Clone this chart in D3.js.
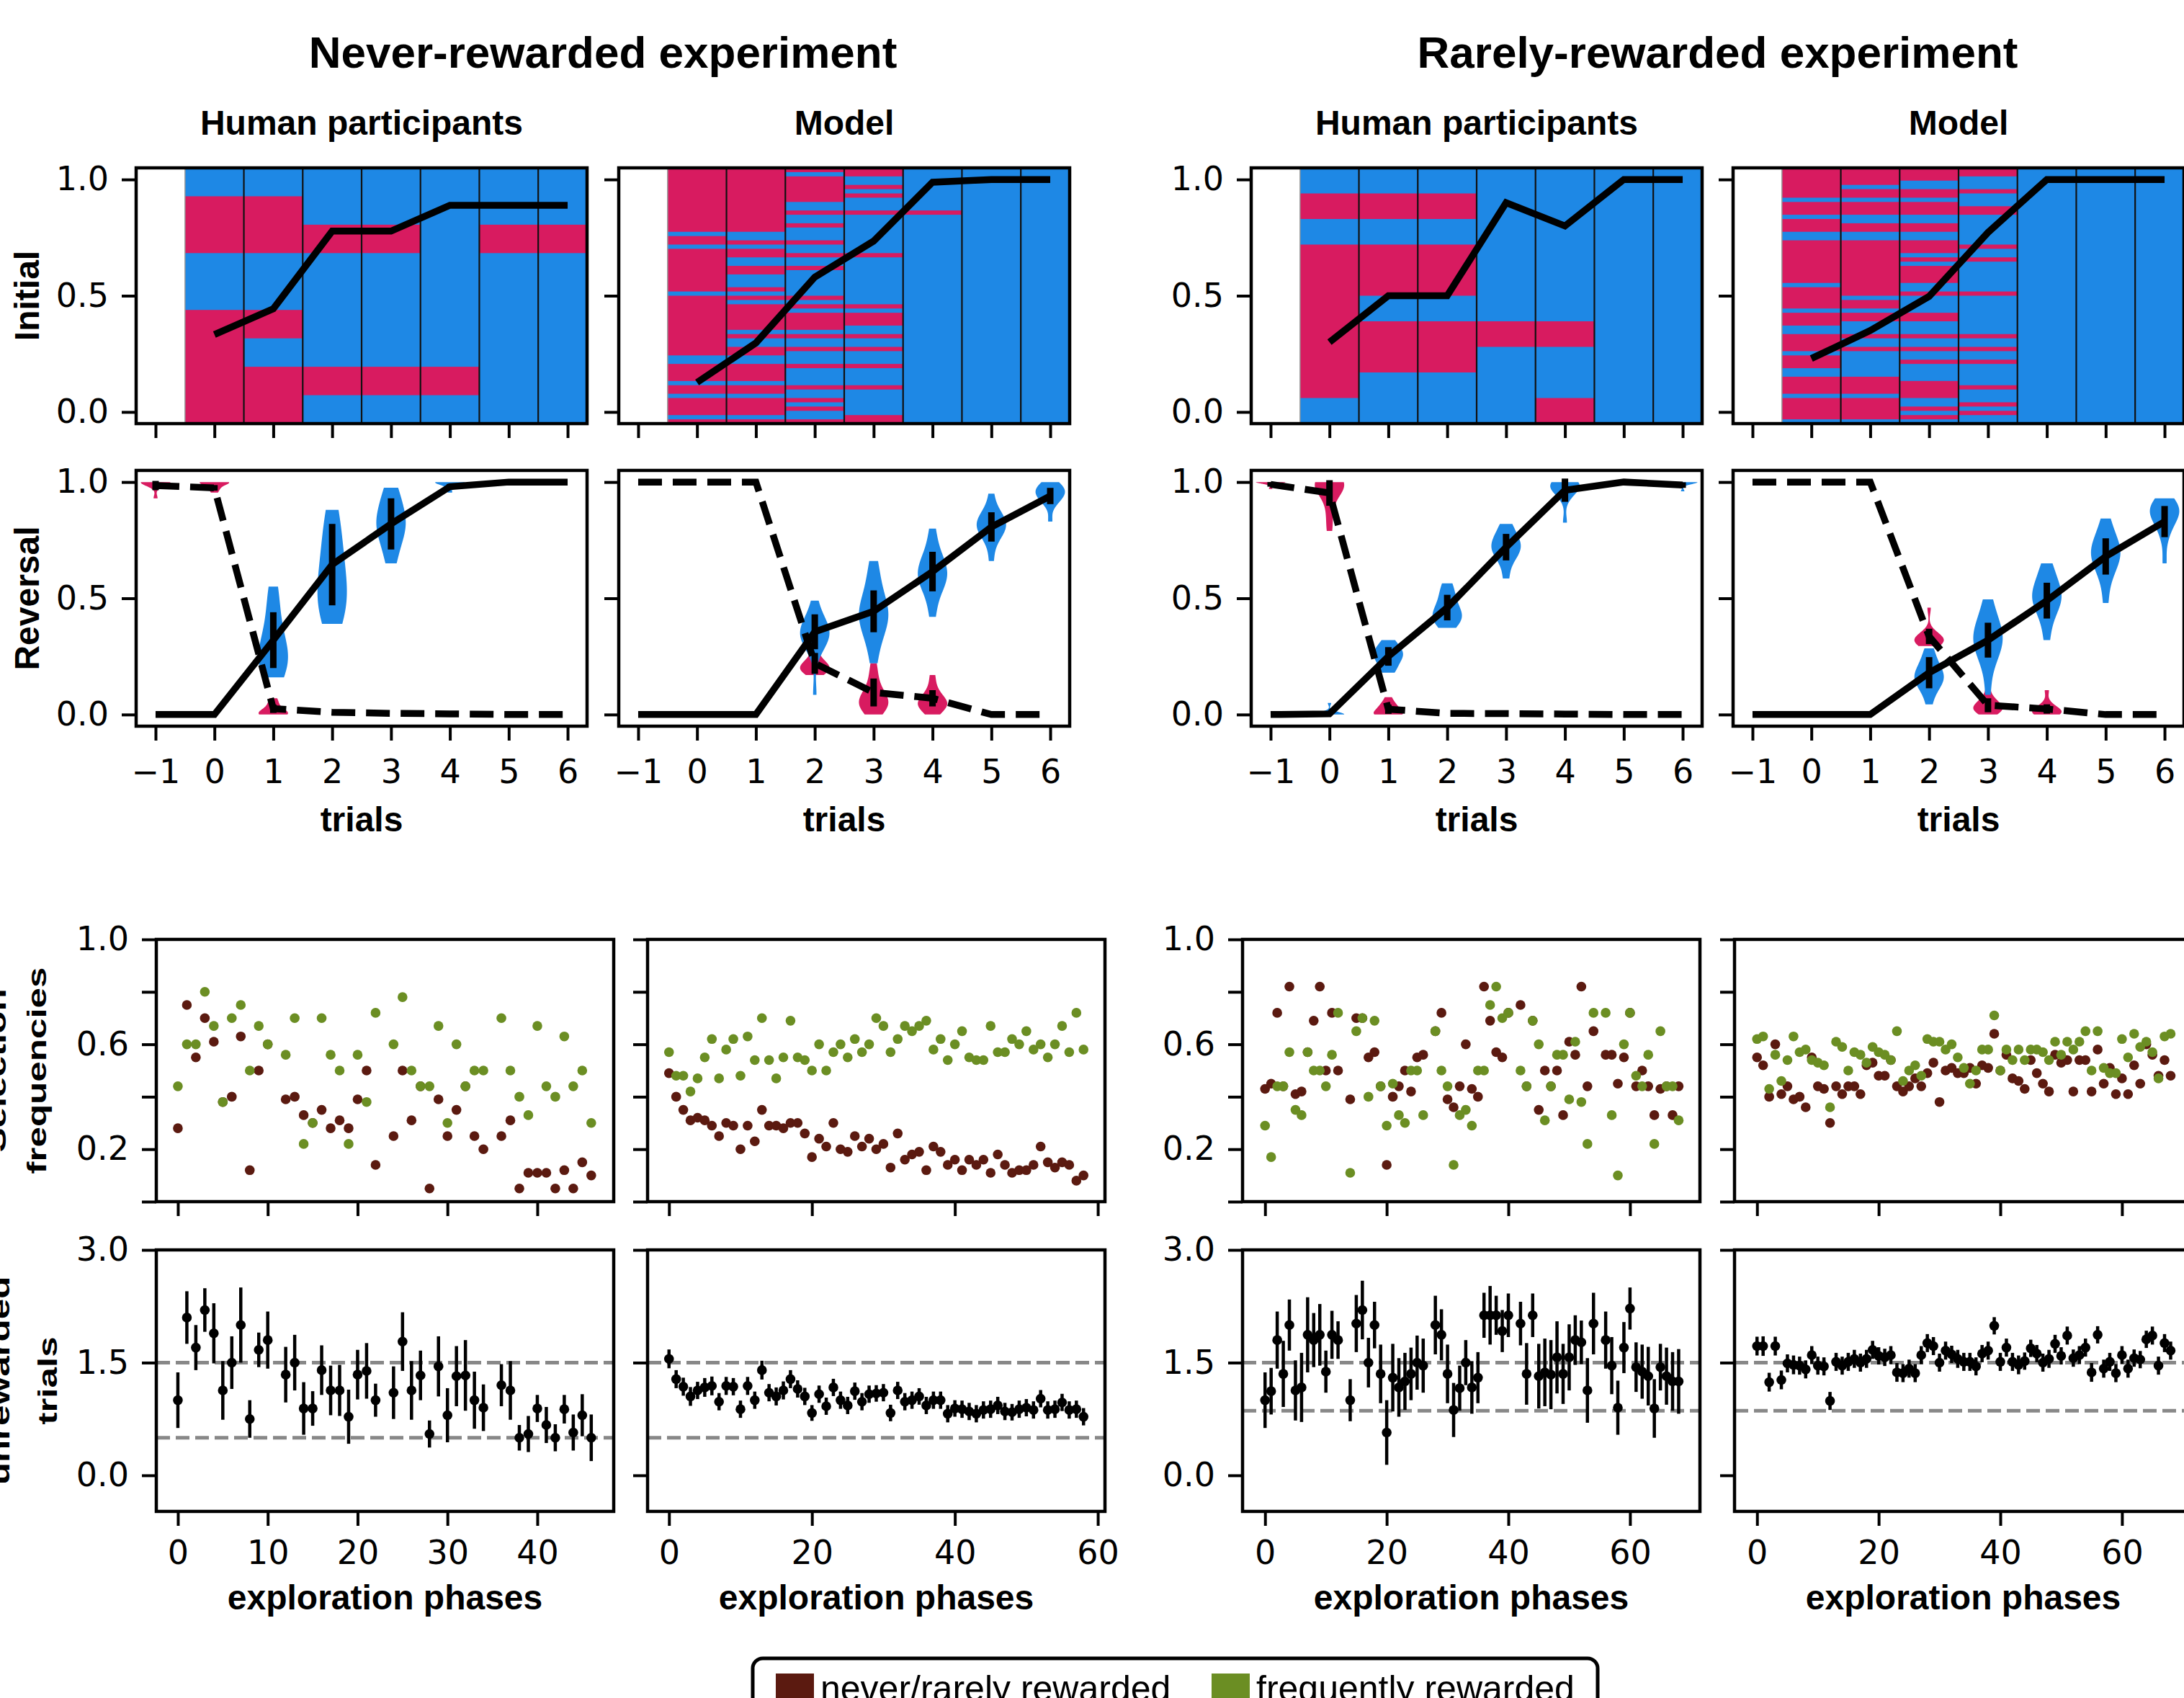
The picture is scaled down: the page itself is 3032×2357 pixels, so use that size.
<!DOCTYPE html>
<html><head><meta charset="utf-8">
<script src="https://cdn.jsdelivr.net/npm/d3@7"></script>
<style>body{margin:0;background:#fff}svg{display:block}</style>
</head><body>
<svg id="c" width="3032" height="2357"></svg>
<script>
// ---------------- DATA ----------------
const trials = [-1,0,1,2,3,4,5,6];
const initTrials = [0,1,2,3,4,5,6];

// Initial phase: per trial column, runs [start,end) of rows (from top) choosing the red option
const initNeverHumanN = 9;
const initNeverHumanRedRuns = [[[1,3],[5,9]],[[1,3],[5,6],[7,9]],[[2,3],[7,8]],[[2,3],[7,8]],[[7,8]],[[2,3]],[[2,3]]];
const initNeverHumanLine = [0.333,0.444,0.778,0.778,0.889,0.889,0.889];

const initNeverModelN = 60;
const initNeverModelRedRuns = [
  [[0,15],[16,18],[19,29],[30,44],[46,50],[51,53],[54,58],[59,60]],
  [[0,15],[17,18],[19,21],[23,25],[28,29],[30,31],[32,38],[39,40],[42,44],[46,50],[51,53],[54,58],[59,60]],
  [[0,1],[2,8],[10,11],[13,14],[17,18],[20,21],[23,24],[30,31],[32,33],[34,38],[39,40],[42,43],[46,47],[51,52],[54,55],[56,57],[59,60]],
  [[0,2],[4,5],[6,7],[10,11],[20,21],[32,33],[34,37],[39,40],[42,43],[46,47],[51,52],[58,60]],
  [[10,11]],[],[]];
const initNeverModelLine = [0.127,0.297,0.58,0.735,0.988,1.0,1.0];

const initRareHumanN = 10;
const initRareHumanRedRuns = [[[1,2],[3,9]],[[1,2],[3,5],[6,8]],[[1,2],[3,5],[6,8]],[[6,7]],[[6,7],[9,10]],[],[]];
const initRareHumanLine = [0.3,0.5,0.5,0.9,0.8,1.0,1.0];

const initRareModelN = 60;
const initRareModelRedRuns = [
  [[0,7],[8,11],[12,15],[17,27],[28,33],[34,37],[39,43],[44,47],[49,53],[54,59]],
  [[0,4],[5,7],[8,11],[13,15],[17,30],[31,33],[34,36],[39,40],[42,43],[49,53],[54,59]],
  [[0,3],[5,7],[8,11],[13,15],[17,20],[21,22],[23,27],[29,30],[34,36],[39,40],[42,43],[45,46],[50,54],[56,57],[58,59]],
  [[0,2],[5,6],[9,11],[18,19],[21,22],[29,30],[39,40],[42,43],[45,46],[51,52],[55,56],[57,58]],
  [],[],[]];
const initRareModelLine = [0.23,0.35,0.497,0.772,1.0,1.0,1.0];

// Reversal phase (x = trials)
const revNeverHumanNew = [0,0,0.32,0.645,0.82,0.98,1.0,1.0];
const revNeverHumanOld = [0.985,0.975,0.025,0.01,0.005,0.003,0,0];
const revNeverHumanNewErr = [0,0,0.12,0.175,0.11,0.012,0,0];
const revNeverHumanOldErr = [0.02,0.012,0.018,0,0,0,0,0];
const revNeverHumanNewViolin = [null,null,
  [0.16,0.19,0.22,0.25,0.28,0.31,0.38,0.46,0.55],
  [0.39,0.44,0.48,0.53,0.58,0.64,0.71,0.79,0.88],
  [0.65,0.72,0.77,0.8,0.82,0.85,0.88,0.93,0.976],
  [0.955,0.98,0.99,1,1,1,1,1,1],null,null];
const revNeverHumanOldViolin = [
  [0.93,0.98,1,1,1,1,1,1,1],
  [0.955,0.97,0.98,0.99,1,1,1,1,1],
  [0,0,0,0,0.01,0.02,0.03,0.05,0.07],null,null,null,null,null];

const revNeverModelNew = [0,0,0,0.356,0.444,0.615,0.807,0.94];
const revNeverModelOld = [1,1,1,0.22,0.095,0.07,0,0];
const revNeverModelNewErr = [0,0,0,0.075,0.09,0.085,0.063,0.035];
const revNeverModelOldErr = [0,0,0,0.045,0.06,0.035,0,0];
const revNeverModelNewViolin = [null,null,null,
  [0.085,0.27,0.3,0.32,0.33,0.34,0.35,0.36,0.37,0.38,0.4,0.43,0.49],
  [0.22,0.3,0.35,0.38,0.4,0.42,0.44,0.45,0.47,0.5,0.55,0.6,0.66],
  [0.42,0.5,0.55,0.57,0.59,0.6,0.61,0.63,0.65,0.68,0.72,0.8],
  [0.66,0.74,0.77,0.79,0.8,0.81,0.82,0.83,0.84,0.86,0.88,0.95],
  [0.83,0.9,0.92,0.93,0.94,0.95,0.96,0.96,0.97,0.98,0.99,1.0]];
const revNeverModelOldViolin = [null,null,null,
  [0.17,0.18,0.19,0.2,0.2,0.21,0.22,0.23,0.25,0.285],
  [0,0.02,0.03,0.04,0.05,0.06,0.07,0.08,0.1,0.13,0.17,0.22],
  [0,0.02,0.03,0.04,0.05,0.05,0.06,0.07,0.09,0.12,0.17],null,null];

const revRareHumanNew = [0,0.003,0.25,0.46,0.72,0.965,1.0,0.987];
const revRareHumanOld = [0.99,0.953,0.023,0.005,0.004,0.002,0,0];
const revRareHumanNewErr = [0,0,0.04,0.055,0.057,0.05,0,0.012];
const revRareHumanOldErr = [0.01,0.055,0.02,0,0,0,0,0];
const revRareHumanNewViolin = [null,
  [0,0,0,0,0,0,0,0,0.01,0.05],
  [0.18,0.2,0.22,0.24,0.25,0.26,0.27,0.28,0.3,0.32],
  [0.373,0.4,0.41,0.42,0.43,0.45,0.47,0.5,0.53,0.564],
  [0.585,0.66,0.69,0.7,0.72,0.73,0.74,0.76,0.79,0.82],
  [0.825,0.93,0.96,0.97,0.98,0.98,0.99,1,1,1],null,
  [0.96,0.99,1,1,1,1,1,1,1,1]];
const revRareHumanOldViolin = [
  [0.97,0.99,1,1,1,1,1,1,1,1],
  [0.79,0.86,0.93,0.96,0.98,1,1,1,1,1],
  [0,0,0,0,0.01,0.02,0.03,0.04,0.05,0.075],null,null,null,null,null];

const revRareModelNew = [0,0,0,0.18,0.32,0.49,0.68,0.83];
const revRareModelOld = [1,1,1,0.336,0.04,0.024,0,0];
const revRareModelNewErr = [0,0,0,0.067,0.075,0.077,0.078,0.067];
const revRareModelOldErr = [0,0,0,0.033,0.03,0.02,0,0];
const revRareModelNewViolin = [null,null,null,
  [0.044,0.1,0.12,0.14,0.15,0.16,0.17,0.18,0.2,0.22,0.25,0.285],
  [0.085,0.2,0.25,0.28,0.3,0.32,0.33,0.35,0.37,0.4,0.44,0.495],
  [0.32,0.4,0.44,0.47,0.49,0.5,0.51,0.53,0.55,0.58,0.61,0.65],
  [0.48,0.58,0.62,0.65,0.67,0.69,0.7,0.71,0.73,0.76,0.79,0.843],
  [0.65,0.76,0.8,0.83,0.85,0.86,0.87,0.88,0.89,0.9,0.91,0.93]];
const revRareModelOldViolin = [null,null,null,
  [0.295,0.305,0.31,0.315,0.32,0.32,0.325,0.33,0.34,0.35,0.46],
  [0,0.01,0.02,0.02,0.03,0.03,0.04,0.05,0.06,0.08,0.126],
  [0,0,0.005,0.01,0.01,0.02,0.02,0.03,0.05,0.105],null,null];

// Exploration phases: selection frequencies
const selNeverHumanRare = [0.28,0.75,0.55,0.70,0.61,0.38,0.40,0.63,0.12,0.50,0.60,null,0.39,0.40,0.33,0.30,0.35,0.28,0.31,0.28,0.39,0.50,0.14,null,0.25,0.50,0.31,0.44,0.05,0.39,0.25,0.35,0.44,0.25,0.20,null,0.25,0.31,0.05,0.11,0.11,0.11,0.05,0.12,0.05,0.15,0.10];
const selNeverHumanFreq = [0.44,0.60,0.60,0.80,0.67,0.38,0.70,0.75,0.50,0.67,0.60,null,0.56,0.70,0.22,0.30,0.70,0.56,0.50,0.22,0.56,0.38,0.72,null,0.60,0.78,0.50,0.44,0.44,0.67,0.30,0.60,0.44,0.50,0.50,null,0.70,0.50,0.40,0.33,0.67,0.44,0.40,0.63,0.44,0.50,0.30];
const selNeverModelRare = [0.49,0.40,0.35,0.31,0.32,0.31,0.29,0.25,0.30,0.29,0.20,0.29,0.23,0.35,0.29,0.29,0.28,0.30,0.30,0.26,0.17,0.24,0.21,0.30,0.20,0.19,0.25,0.21,0.24,0.20,0.22,0.13,0.26,0.16,0.18,0.19,0.12,0.21,0.19,0.14,0.16,0.12,0.16,0.14,0.16,0.11,0.18,0.14,0.11,0.12,0.12,0.14,0.21,0.15,0.13,0.15,0.14,0.08,0.10];
const selNeverModelFreq = [0.57,0.48,0.48,0.42,0.47,0.55,0.62,0.47,0.58,0.62,0.48,0.63,0.54,0.70,0.54,0.47,0.55,0.69,0.55,0.54,0.50,0.60,0.50,0.57,0.60,0.55,0.62,0.57,0.60,0.70,0.67,0.57,0.62,0.67,0.65,0.67,0.69,0.58,0.62,0.54,0.60,0.65,0.55,0.54,0.54,0.67,0.57,0.57,0.62,0.60,0.65,0.58,0.60,0.55,0.60,0.67,0.57,0.72,0.58];
const selRareHumanRare = [0.43,0.45,0.72,0.44,0.82,0.41,0.42,0.57,0.69,0.82,0.50,0.72,0.50,null,0.39,0.70,0.70,0.55,0.57,0.44,0.14,0.40,0.44,0.50,0.42,0.55,0.56,null,0.65,0.72,0.39,0.36,0.44,0.60,0.43,0.40,0.82,0.69,0.57,0.55,0.72,null,0.75,0.44,0.69,0.35,0.50,0.44,0.50,0.33,0.61,0.56,0.82,0.44,0.65,null,0.56,0.56,0.45,0.55,0.72,0.44,0.50,0.44,0.33,0.43,0.44,0.33,0.44];
const selRareHumanFreq = [0.29,0.17,0.44,0.44,0.57,0.35,0.33,0.57,0.50,0.50,0.44,0.56,0.72,null,0.11,0.65,0.70,0.40,0.69,0.44,0.29,0.45,0.33,0.30,0.50,0.50,0.33,null,0.65,0.50,0.44,0.14,0.33,0.35,0.29,0.50,0.50,0.75,0.82,0.70,0.72,null,0.50,0.44,0.69,0.60,0.31,0.44,0.56,0.56,0.39,0.61,0.38,0.22,0.72,null,0.72,0.33,0.10,0.60,0.72,0.48,0.44,0.56,0.22,0.65,0.44,0.44,0.31];
const selRareModelRare = [0.55,0.52,0.40,0.60,0.41,0.44,0.39,0.40,0.36,0.55,0.44,0.43,0.30,0.44,0.41,0.44,0.44,0.41,0.52,0.53,0.48,0.48,0.54,0.44,0.42,0.44,0.47,0.44,0.49,0.53,0.38,0.50,0.51,0.49,0.49,0.51,0.45,0.52,0.51,0.64,0.50,0.56,0.47,0.46,0.43,0.54,0.49,0.45,0.42,0.56,0.53,0.54,0.42,0.54,0.54,0.42,0.58,0.45,0.51,0.41,0.47,0.41,0.52,0.45,0.60,0.56,0.48,0.54,0.48];
const selRareModelFreq = [0.62,0.63,0.43,0.56,0.46,0.54,0.63,0.57,0.58,0.54,0.53,0.52,0.36,0.61,0.59,0.50,0.57,0.56,0.53,0.59,0.57,0.56,0.54,0.65,0.46,0.50,0.52,0.48,0.62,0.61,0.61,0.58,0.60,0.55,0.51,0.45,0.50,0.58,0.58,0.71,0.50,0.58,0.54,0.58,0.54,0.58,0.58,0.57,0.54,0.61,0.56,0.61,0.58,0.61,0.65,0.50,0.65,0.51,0.49,0.49,0.62,0.55,0.64,0.59,0.61,0.57,0.47,0.63,0.64];

// Exploration phases: unrewarded trials (mean, error)
const unrNeverHuman = [1.00,2.10,1.70,2.20,1.89,1.13,1.50,2.00,0.75,1.67,1.80,null,1.34,1.50,0.89,0.89,1.40,1.13,1.13,0.78,1.34,1.39,1.00,null,1.10,1.78,1.13,1.33,0.55,1.45,0.80,1.32,1.33,1.00,0.90,null,1.20,1.13,0.50,0.55,0.89,0.67,0.50,0.88,0.57,0.80,0.50];
const unrNeverHumanErr = [0.37,0.35,0.30,0.29,0.40,0.39,0.35,0.50,0.25,0.23,0.38,null,0.37,0.37,0.35,0.23,0.33,0.33,0.34,0.36,0.33,0.37,0.22,null,0.35,0.39,0.39,0.33,0.18,0.40,0.36,0.40,0.47,0.38,0.31,null,0.28,0.39,0.17,0.24,0.18,0.24,0.18,0.19,0.24,0.28,0.31];
const unrNeverModel = [1.55,1.28,1.18,1.05,1.13,1.17,1.19,0.98,1.19,1.18,0.88,1.19,1.00,1.40,1.10,1.05,1.13,1.28,1.15,1.05,0.83,1.08,0.92,1.17,1.00,0.93,1.12,0.98,1.08,1.09,1.10,0.83,1.13,0.98,1.00,1.05,0.93,1.00,1.00,0.82,0.89,0.88,0.85,0.82,0.87,0.88,0.93,0.85,0.84,0.88,0.90,0.87,1.02,0.87,0.88,0.97,0.87,0.88,0.78];
const unrNeverModelErr = [0.125,0.12,0.12,0.125,0.115,0.125,0.125,0.115,0.12,0.115,0.115,0.12,0.115,0.125,0.115,0.12,0.12,0.12,0.115,0.115,0.105,0.115,0.115,0.115,0.115,0.115,0.115,0.115,0.115,0.11,0.115,0.11,0.115,0.115,0.115,0.11,0.115,0.115,0.115,0.115,0.11,0.115,0.115,0.115,0.115,0.115,0.115,0.115,0.11,0.115,0.115,0.115,0.115,0.115,0.115,0.115,0.115,0.115,0.115];
const unrRareHuman = [1.00,1.12,1.80,1.35,2.00,1.13,1.17,1.87,1.80,1.87,1.38,1.87,1.80,null,1.00,2.02,2.20,1.50,2.00,1.35,0.57,1.30,1.17,1.25,1.35,1.50,1.46,null,2.00,1.87,1.35,0.87,1.16,1.50,1.17,1.30,2.13,2.13,2.13,1.92,2.13,null,2.02,1.35,2.13,1.32,1.37,1.34,1.57,1.35,1.57,1.80,1.77,1.13,2.02,null,1.80,1.46,0.90,1.70,2.22,1.44,1.38,1.32,0.89,1.44,1.32,1.25,1.25];
const unrRareHumanErr = [0.37,0.31,0.38,0.44,0.34,0.40,0.46,0.50,0.36,0.41,0.28,0.32,0.25,null,0.28,0.38,0.39,0.33,0.31,0.39,0.43,0.45,0.39,0.38,0.35,0.36,0.36,null,0.39,0.34,0.39,0.36,0.30,0.30,0.35,0.34,0.30,0.39,0.26,0.28,0.29,null,0.29,0.41,0.29,0.43,0.45,0.46,0.48,0.40,0.44,0.33,0.29,0.43,0.41,null,0.38,0.38,0.36,0.34,0.28,0.33,0.36,0.39,0.39,0.31,0.38,0.39,0.43];
const unrRareModel = [1.72,1.72,1.24,1.72,1.27,1.49,1.47,1.46,1.41,1.60,1.46,1.45,0.99,1.51,1.46,1.51,1.55,1.50,1.55,1.67,1.59,1.57,1.60,1.37,1.36,1.42,1.36,1.60,1.76,1.72,1.50,1.66,1.61,1.55,1.51,1.51,1.45,1.62,1.66,1.99,1.51,1.70,1.51,1.47,1.52,1.69,1.62,1.50,1.55,1.75,1.59,1.86,1.56,1.60,1.70,1.37,1.87,1.42,1.51,1.36,1.60,1.42,1.56,1.54,1.81,1.86,1.46,1.76,1.66];
const unrRareModelErr = [0.125,0.13,0.125,0.125,0.125,0.12,0.125,0.12,0.12,0.12,0.12,0.12,0.12,0.12,0.12,0.12,0.12,0.12,0.12,0.12,0.115,0.115,0.12,0.125,0.12,0.12,0.12,0.12,0.12,0.12,0.12,0.12,0.115,0.12,0.12,0.12,0.12,0.115,0.12,0.115,0.12,0.12,0.12,0.125,0.115,0.115,0.115,0.12,0.12,0.12,0.115,0.12,0.115,0.12,0.12,0.125,0.115,0.12,0.12,0.12,0.12,0.12,0.115,0.115,0.115,0.12,0.12,0.12,0.12];
const unrNeverRefLines = [1.5,0.5];
const unrRareRefLines = [1.5,0.86];

const legendLabels = ["never/rarely rewarded","frequently rewarded"];

// ---------------- STYLE / LAYOUT ----------------
const BLUE='#1E88E5', RED='#D81B60', DARKRED='#5b1a10', GREEN='#6b8e23';
const FT='"DejaVu Sans", sans-serif', FL='"Liberation Sans", Arial, sans-serif';
const svg = d3.select('#c');
const PW=626, PH=355, TOPS=[233,653], LEFTS=[189,859,1737,2406];
const BW=635, BH=364, BTOPS=[1304,1735], BLEFTS=[217,899,1725,2408];
const FRAME_W=4.5, TICK_W=4, TICK_L=20, LINE_W=9.5;

function styleAxis(g){
  g.select('.domain').remove();
  g.selectAll('.tick line').attr('stroke','#000').attr('stroke-width',TICK_W);
  g.selectAll('.tick text').attr('font-family',FT).attr('font-size',46).attr('fill','#000');
}
function frame(g,w,h){
  g.append('rect').attr('x',0).attr('y',0).attr('width',w).attr('height',h)
    .attr('fill','none').attr('stroke','#000').attr('stroke-width',FRAME_W);
}
let clipId=0;
function addClip(g,w,h){
  const id='clip'+(clipId++);
  g.append('clipPath').attr('id',id).append('rect').attr('width',w).attr('height',h);
  return id;
}

// ---------------- TOP: Initial ----------------
function initialPanel(i, N, runs, line, showY){
  const g = svg.append('g').attr('transform',`translate(${LEFTS[i]},${TOPS[0]})`);
  const x = d3.scaleLinear().domain([-1.33,6.33]).range([0,PW]);
  const y = d3.scaleLinear().domain([-0.05,1.05]).range([PH,0]);
  const row = d3.scaleLinear().domain([0,N]).range([y(1.05),y(-0.05)]);
  const cid = addClip(g,PW,PH);
  const hm = g.append('g').attr('clip-path',`url(#${cid})`);
  initTrials.forEach((t,c)=>{
    hm.append('rect').attr('x',x(t-0.5)).attr('y',row(0)).attr('width',x(t+0.5)-x(t-0.5)).attr('height',row(N)-row(0)).attr('fill',BLUE);
    runs[c].forEach(r=>{
      hm.append('rect').attr('x',x(t-0.5)).attr('y',row(r[0])).attr('width',x(t+0.5)-x(t-0.5)).attr('height',row(r[1])-row(r[0])).attr('fill',RED);
    });
  });
  hm.append('line').attr('x1',x(-0.5)).attr('x2',x(-0.5)).attr('y1',0).attr('y2',PH).attr('stroke','#999').attr('stroke-width',1.5);
  initTrials.slice(0,6).forEach(t=>{
    hm.append('line').attr('x1',x(t+0.5)).attr('x2',x(t+0.5)).attr('y1',0).attr('y2',PH).attr('stroke','#111').attr('stroke-width',2.2);
  });
  g.append('path').datum(line).attr('fill','none').attr('stroke','#000').attr('stroke-width',LINE_W)
    .attr('d',d3.line().x((d,k)=>x(initTrials[k])).y(d=>y(d)));
  const ax = g.append('g').attr('transform',`translate(0,${PH})`)
    .call(d3.axisBottom(x).tickValues(trials).tickFormat('').tickSizeInner(TICK_L).tickSizeOuter(0));
  styleAxis(ax);
  const ay = g.append('g').call(d3.axisLeft(y).tickValues([0,0.5,1]).tickFormat(showY?d3.format('.1f'):()=> '').tickSizeInner(TICK_L).tickSizeOuter(0).tickPadding(18));
  styleAxis(ay);
  frame(g,PW,PH);
}

// ---------------- Reversal ----------------
function violin(g,x,y,xc,samples,color){
  const n=samples.length, mn=d3.min(samples), mx=d3.max(samples);
  const sd=d3.deviation(samples);
  if(!(mx-mn>1e-9) || !(sd>0)) return;
  const bw=sd*Math.pow(n,-0.2);
  const grid=d3.range(100).map(k=>mn+(mx-mn)*k/99);
  const dens=grid.map(t=>d3.sum(samples,v=>Math.exp(-0.5*((t-v)/bw)**2)));
  const dmax=d3.max(dens);
  const pts=grid.map((t,k)=>({t,w:0.25*dens[k]/dmax}));
  g.append('path').datum(pts).attr('fill',color)
    .attr('d',d3.area().y(d=>y(d.t)).x0(d=>x(xc-d.w)).x1(d=>x(xc+d.w)));
}
function reversalPanel(i,newV,oldV,newErr,oldErr,newVio,oldVio,showY){
  const g = svg.append('g').attr('transform',`translate(${LEFTS[i]},${TOPS[1]})`);
  const x = d3.scaleLinear().domain([-1.33,6.33]).range([0,PW]);
  const y = d3.scaleLinear().domain([-0.05,1.05]).range([PH,0]);
  trials.forEach((t,k)=>{
    if(oldVio[k]) violin(g,x,y,t,oldVio[k],RED);
    if(newVio[k]) violin(g,x,y,t,newVio[k],BLUE);
  });
  const ln = d3.line().x((d,k)=>x(trials[k])).y(d=>y(d));
  g.append('path').datum(newV).attr('fill','none').attr('stroke','#000').attr('stroke-width',LINE_W).attr('d',ln);
  g.append('path').datum(oldV).attr('fill','none').attr('stroke','#000').attr('stroke-width',LINE_W).attr('stroke-dasharray','33,15').attr('d',ln);
  trials.forEach((t,k)=>{
    [[newV,newErr],[oldV,oldErr]].forEach(([v,e])=>{
      if(e[k]>0) g.append('line').attr('x1',x(t)).attr('x2',x(t)).attr('y1',y(v[k]-e[k])).attr('y2',y(v[k]+e[k]))
        .attr('stroke','#000').attr('stroke-width',9);
    });
  });
  const ax = g.append('g').attr('transform',`translate(0,${PH})`)
    .call(d3.axisBottom(x).tickValues(trials).tickFormat(d3.format('d')).tickSizeInner(TICK_L).tickSizeOuter(0).tickPadding(26));
  styleAxis(ax);
  const ay = g.append('g').call(d3.axisLeft(y).tickValues([0,0.5,1]).tickFormat(showY?d3.format('.1f'):()=> '').tickSizeInner(TICK_L).tickSizeOuter(0).tickPadding(18));
  styleAxis(ay);
  frame(g,PW,PH);
  g.append('text').attr('x',PW/2).attr('y',1154-TOPS[1]).attr('text-anchor','middle')
    .attr('font-family',FL).attr('font-weight','bold').attr('font-size',48).text('trials');
}

// ---------------- Bottom: Selection ----------------
function selectionPanel(i,dom,xt,rare,freq,showY){
  const g = svg.append('g').attr('transform',`translate(${BLEFTS[i]},${BTOPS[0]})`);
  const x = d3.scaleLinear().domain(dom).range([0,BW]);
  const y = d3.scaleLinear().domain([0,1]).range([BH,0]);
  const cid = addClip(g,BW,BH);
  const pg = g.append('g').attr('clip-path',`url(#${cid})`);
  rare.forEach((v,k)=>{ if(v!=null) pg.append('circle').attr('cx',x(k)).attr('cy',y(v)).attr('r',6.8).attr('fill',DARKRED); });
  freq.forEach((v,k)=>{ if(v!=null) pg.append('circle').attr('cx',x(k)).attr('cy',y(v)).attr('r',6.8).attr('fill',GREEN); });
  const ax = g.append('g').attr('transform',`translate(0,${BH})`)
    .call(d3.axisBottom(x).tickValues(xt).tickFormat('').tickSizeInner(TICK_L).tickSizeOuter(0));
  styleAxis(ax);
  const lab = new Set([0.2,0.6,1.0]);
  const ay = g.append('g').call(d3.axisLeft(y).tickValues([0,0.2,0.4,0.6,0.8,1.0])
    .tickFormat(d=> (showY && lab.has(+d.toFixed(1))) ? d3.format('.1f')(d) : '').tickSizeInner(TICK_L).tickSizeOuter(0).tickPadding(18));
  styleAxis(ay);
  frame(g,BW,BH);
}

// ---------------- Bottom: Unrewarded ----------------
function unrewardedPanel(i,dom,xt,vals,errs,refs,showY){
  const h=363;
  const g = svg.append('g').attr('transform',`translate(${BLEFTS[i]},${BTOPS[1]})`);
  const x = d3.scaleLinear().domain(dom).range([0,BW]);
  const y = d3.scaleLinear().domain([-0.48,3.0]).range([h,0]);
  const cid = addClip(g,BW,h);
  const pg = g.append('g').attr('clip-path',`url(#${cid})`);
  refs.forEach(r=>{
    pg.append('line').attr('x1',0).attr('x2',BW).attr('y1',y(r)).attr('y2',y(r))
      .attr('stroke','#888').attr('stroke-width',5).attr('stroke-dasharray','19,8');
  });
  vals.forEach((v,k)=>{
    if(v==null) return;
    pg.append('line').attr('x1',x(k)).attr('x2',x(k)).attr('y1',y(v-errs[k])).attr('y2',y(v+errs[k]))
      .attr('stroke','#000').attr('stroke-width',4.5);
    pg.append('circle').attr('cx',x(k)).attr('cy',y(v)).attr('r',6.8).attr('fill','#000');
  });
  const ax = g.append('g').attr('transform',`translate(0,${h})`)
    .call(d3.axisBottom(x).tickValues(xt).tickFormat(d3.format('d')).tickSizeInner(TICK_L).tickSizeOuter(0).tickPadding(20));
  styleAxis(ax);
  const ay = g.append('g').call(d3.axisLeft(y).tickValues([0,1.5,3.0]).tickFormat(showY?d3.format('.1f'):()=> '').tickSizeInner(TICK_L).tickSizeOuter(0).tickPadding(18));
  styleAxis(ay);
  frame(g,BW,h);
  g.append('text').attr('x',BW/2).attr('y',2234-BTOPS[1]).attr('text-anchor','middle')
    .attr('font-family',FL).attr('font-weight','bold').attr('font-size',48).text('exploration phases');
}

// ---------------- DRAW ----------------
initialPanel(0,initNeverHumanN,initNeverHumanRedRuns,initNeverHumanLine,true);
initialPanel(1,initNeverModelN,initNeverModelRedRuns,initNeverModelLine,false);
initialPanel(2,initRareHumanN,initRareHumanRedRuns,initRareHumanLine,true);
initialPanel(3,initRareModelN,initRareModelRedRuns,initRareModelLine,false);

reversalPanel(0,revNeverHumanNew,revNeverHumanOld,revNeverHumanNewErr,revNeverHumanOldErr,revNeverHumanNewViolin,revNeverHumanOldViolin,true);
reversalPanel(1,revNeverModelNew,revNeverModelOld,revNeverModelNewErr,revNeverModelOldErr,revNeverModelNewViolin,revNeverModelOldViolin,false);
reversalPanel(2,revRareHumanNew,revRareHumanOld,revRareHumanNewErr,revRareHumanOldErr,revRareHumanNewViolin,revRareHumanOldViolin,true);
reversalPanel(3,revRareModelNew,revRareModelOld,revRareModelNewErr,revRareModelOldErr,revRareModelNewViolin,revRareModelOldViolin,false);

const domA=[-2.4,48.5], domB=[-3.0,61.0], domC=[-3.7,71.5], domD=[-3.7,71.5];
const xtA=[0,10,20,30,40], xt60=[0,20,40,60];
selectionPanel(0,domA,xtA,selNeverHumanRare,selNeverHumanFreq,true);
selectionPanel(1,domB,xt60,selNeverModelRare,selNeverModelFreq,false);
selectionPanel(2,domC,xt60,selRareHumanRare,selRareHumanFreq,true);
selectionPanel(3,domD,xt60,selRareModelRare,selRareModelFreq,false);

unrewardedPanel(0,domA,xtA,unrNeverHuman,unrNeverHumanErr,unrNeverRefLines,true);
unrewardedPanel(1,domB,xt60,unrNeverModel,unrNeverModelErr,unrNeverRefLines,false);
unrewardedPanel(2,domC,xt60,unrRareHuman,unrRareHumanErr,unrRareRefLines,true);
unrewardedPanel(3,domD,xt60,unrRareModel,unrRareModelErr,unrRareRefLines,false);

// ---------------- TEXT ----------------
function txt(x,y,s,size,weight,anchor){
  return svg.append('text').attr('x',x).attr('y',y).attr('font-family',FL).attr('font-size',size)
    .attr('font-weight',weight||'normal').attr('text-anchor',anchor||'middle').attr('fill','#000').text(s);
}
txt((LEFTS[0]+LEFTS[1]+PW)/2,94,'Never-rewarded experiment',62,'bold');
txt((LEFTS[2]+LEFTS[3]+PW)/2,94,'Rarely-rewarded experiment',62,'bold');
[0,2].forEach(i=>txt(LEFTS[i]+PW/2,187,'Human participants',48,'bold'));
[1,3].forEach(i=>txt(LEFTS[i]+PW/2,187,'Model',48,'bold'));

function ylab(x,y,s,size,sx){
  svg.append('text').attr('transform',`translate(${x},${y}) rotate(-90) scale(${sx},1)`)
    .attr('font-family',FL).attr('font-size',size).attr('font-weight','bold').attr('text-anchor','middle').attr('fill','#000').text(s);
}
ylab(54,TOPS[0]+PH/2,'Initial',48,1);
ylab(54,TOPS[1]+PH/2,'Reversal',48,1);
ylab(8,BTOPS[0]+BH/2,'Selection',36,1.42);
ylab(64,BTOPS[0]+BH/2,'frequencies',36,1.42);
ylab(13,BTOPS[1]+363/2,'unrewarded',36,1.42);
ylab(79,BTOPS[1]+363/2,'trials',36,1.42);

// ---------------- LEGEND ----------------
const lg = svg.append('g');
lg.append('rect').attr('x',1045).attr('y',2302).attr('width',1173).attr('height',140).attr('rx',14)
  .attr('fill','#fff').attr('stroke','#000').attr('stroke-width',5);
const legColors=[DARKRED,GREEN], legX=[1077,1682];
legendLabels.forEach((s,k)=>{
  lg.append('rect').attr('x',legX[k]).attr('y',2323).attr('width',53).attr('height',53).attr('fill',legColors[k]);
  lg.append('text').attr('x',legX[k]+62).attr('y',2361).attr('font-family',FL).attr('font-size',50).attr('fill','#000').text(s);
});
</script>
</body></html>
